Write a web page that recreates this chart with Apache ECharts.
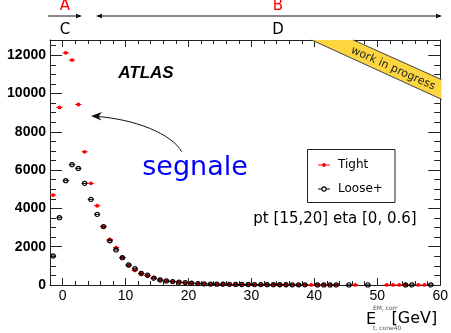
<!DOCTYPE html>
<html><head><meta charset="utf-8">
<script src="https://cdn.jsdelivr.net/npm/echarts@6/dist/echarts.min.js"></script>
<style>html,body{margin:0;padding:0;background:#fff}#c{width:451px;height:333px}</style>
</head><body><div id="c"></div>
<script>
// bin centres (GeV), 1 GeV bins from -2 to 60
const binCenters = [-1.5,-0.5,0.5,1.5,2.5,3.5,4.5,5.5,6.5,7.5,8.5,9.5,10.5,11.5,12.5,13.5,14.5,15.5,16.5,17.5,18.5,19.5,
  20.5,21.5,22.5,23.5,24.5,25.5,26.5,27.5,28.5,29.5,30.5,31.5,32.5,33.5,34.5,35.5,36.5,37.5,38.5,39.5,
  40.5,41.5,42.5,43.5,44.5,45.5,46.5,47.5,48.5,49.5,50.5,51.5,52.5,53.5,54.5,55.5,56.5,57.5,58.5,59.5];
const tightValues = [4700,9280,12130,11750,9430,6960,5310,4140,3050,2380,1950,1430,1010,760,600,480,370,270,215,180,150,115,
  90,70,60,50,45,40,35,30,25,25,20,20,15,15,12,12,10,10,8,6,
  6,5,5,5,null,null,4,null,null,null,null,3,3,3,3,null,2,2,null,null];
const looseValues = [1515,3515,5450,6285,6090,5310,4475,3690,3050,2310,1830,1425,1045,850,600,510,355,260,215,180,150,125,
  95,75,60,50,45,40,35,30,25,25,20,20,15,15,12,12,10,10,8,null,
  6,5,5,5,null,4,null,null,4,null,null,null,null,null,3,3,null,null,2,null];
const xLabelValues = [0,10,20,30,40,50,60];
const yLabelValues = [0,2000,4000,6000,8000,10000,12000];

const tightData = binCenters.map((x,i)=>[x,tightValues[i]]).filter(d=>d[1]!==null);
const looseData = binCenters.map((x,i)=>[x,looseValues[i]]).filter(d=>d[1]!==null);

function makeRender(color, hollow){
  return function(params, api){
    const x = api.value(0), y = api.value(1);
    const p = api.coord([x,y]);
    const l = api.coord([x-0.5,y]);
    const r = api.coord([x+0.5,y]);
    return {type:'group', children:[
      {type:'line', shape:{x1:l[0],y1:l[1],x2:r[0],y2:r[1]}, style:{stroke:color,lineWidth:1}},
      hollow
        ? {type:'circle', shape:{cx:p[0],cy:p[1],r:2.1}, style:{fill:'rgba(0,0,0,0)',stroke:color,lineWidth:1.1}}
        : {type:'circle', shape:{cx:p[0],cy:p[1],r:1.9}, style:{fill:color}}
    ]};
  };
}

const XMIN=-2, XMAX=60, YMAX=12800;
const lineStyle = {color:'#222', width:1};
const plain = v => String(v);
function xAx(pos, major, label){
  return {type:'value', min:XMIN, max:XMAX, position:pos,
    interval: major ? undefined : 2,
    splitLine:{show:false},
    axisLine:{show:!major, onZero:false, lineStyle},
    axisTick:major ? {show:true, inside:true, length:7, customValues:xLabelValues, lineStyle}
                   : {show:true, inside:true, length:4, lineStyle},
    axisLabel: label ? {show:true, customValues:xLabelValues, formatter:plain, margin:4, fontSize:14, color:'#000', fontFamily:'Liberation Sans'} : {show:false}
  };
}
function yAx(pos, major, label){
  return {type:'value', min:0, max:YMAX, position:pos,
    interval: major ? undefined : 500,
    splitLine:{show:false},
    axisLine:{show:!major, onZero:false, lineStyle},
    axisTick:major ? {show:true, inside:true, length:12, customValues:yLabelValues, lineStyle}
                   : {show:true, inside:true, length:6, lineStyle},
    axisLabel: label ? {show:true, customValues:yLabelValues, formatter:plain, margin:4, fontSize:14, fontWeight:'bold', color:'#000', fontFamily:'Liberation Sans'} : {show:false}
  };
}

const chart = echarts.init(document.getElementById('c'), null, {renderer:'canvas'});
chart.setOption({
  animation:false,
  backgroundColor:'#fff',
  grid:{left:50, right:9, top:40, bottom:48, containLabel:false},
  xAxis:[xAx('bottom',false,true), xAx('bottom',true,false), xAx('top',false,false), xAx('top',true,false)],
  yAxis:[yAx('left',false,true), yAx('left',true,false), yAx('right',false,false), yAx('right',true,false)],
  series:[
    {name:'Tight', type:'custom', xAxisIndex:0, yAxisIndex:0, data:tightData, renderItem:makeRender('#ff0000',false), z:3},
    {name:'Loose+', type:'custom', xAxisIndex:0, yAxisIndex:0, data:looseData, renderItem:makeRender('#000000',true), z:4}
  ],
  graphic:[
    // work in progress banner
    {type:'polygon', shape:{points:[[311.7,40],[353.3,40],[441.5,79.6],[441.5,99.3]]}, style:{fill:'#fcd53f'}, z:5},
    {type:'line', shape:{x1:311.7,y1:40,x2:441.5,y2:99.3}, style:{stroke:'#444',lineWidth:1}, z:6},
    {type:'line', shape:{x1:353.3,y1:40,x2:441.5,y2:79.6}, style:{stroke:'#444',lineWidth:1}, z:6},
    {type:'text', x:393, y:68.5, rotation:-0.423, style:{text:'work in progress', font:'11px "DejaVu Sans"', fill:'#222', align:'center', verticalAlign:'middle'}, z:7},
    // top annotations
    {type:'text', x:65, y:6, style:{text:'A', font:'15px "DejaVu Sans"', fill:'#ff0000', align:'center', verticalAlign:'middle'}},
    {type:'text', x:278, y:6, style:{text:'B', font:'15px "DejaVu Sans"', fill:'#ff0000', align:'center', verticalAlign:'middle'}},
    {type:'text', x:65, y:30.5, style:{text:'C', font:'15px "DejaVu Sans"', fill:'#000', align:'center', verticalAlign:'middle'}},
    {type:'text', x:278, y:30.5, style:{text:'D', font:'15px "DejaVu Sans"', fill:'#000', align:'center', verticalAlign:'middle'}},
    {type:'line', shape:{x1:48,y1:16,x2:80,y2:16}, style:{stroke:'#111',lineWidth:1}},
    {type:'polygon', shape:{points:[[82,16],[76,13.8],[76,18.2]]}, style:{fill:'#111'}},
    {type:'line', shape:{x1:98,y1:16,x2:440,y2:16}, style:{stroke:'#111',lineWidth:1}},
    {type:'polygon', shape:{points:[[96,16],[102,13.8],[102,18.2]]}, style:{fill:'#111'}},
    {type:'polygon', shape:{points:[[442,16],[436,13.8],[436,18.2]]}, style:{fill:'#111'}},
    // ATLAS
    {type:'text', x:146, y:73.5, style:{text:'ATLAS', font:'italic bold 17px "Liberation Sans"', fill:'#000', align:'center', verticalAlign:'middle'}},
    // segnale + arrow
    {type:'text', x:195, y:168, style:{text:'segnale', font:'27px "DejaVu Sans"', fill:'#0000ff', align:'center', verticalAlign:'middle'}},
    {type:'bezierCurve', shape:{x1:181.7,y1:151.7,cpx1:172,cpy1:134,cpx2:135,cpy2:119,x2:95,y2:116.3}, style:{stroke:'#111',lineWidth:1,fill:null}},
    {type:'polygon', shape:{points:[[91,116],[102,112],[98.5,116.5],[101.5,120.5]]}, style:{fill:'#111'}},
    // legend
    {type:'rect', shape:{x:307.5,y:149.5,width:87.5,height:53}, style:{fill:'#fff',stroke:'#222',lineWidth:1}, z:8},
    {type:'line', shape:{x1:318,y1:165,x2:330,y2:165}, style:{stroke:'#ff0000',lineWidth:1}, z:9},
    {type:'circle', shape:{cx:324,cy:165,r:1.9}, style:{fill:'#ff0000'}, z:9},
    {type:'text', x:338, y:165, style:{text:'Tight', font:'12px "DejaVu Sans"', fill:'#000', verticalAlign:'middle'}, z:9},
    {type:'line', shape:{x1:318,y1:189,x2:330,y2:189}, style:{stroke:'#000',lineWidth:1}, z:9},
    {type:'circle', shape:{cx:324,cy:189,r:2.1}, style:{fill:'#fff',stroke:'#000',lineWidth:1.1}, z:9},
    {type:'text', x:338, y:189, style:{text:'Loose+', font:'12px "DejaVu Sans"', fill:'#000', verticalAlign:'middle'}, z:9},
    // pt / eta text
    {type:'text', x:335, y:219, style:{text:'pt [15,20] eta [0, 0.6]', font:'15px "DejaVu Sans"', fill:'#000', align:'center', verticalAlign:'middle'}},
    // x-axis title
    {type:'text', x:366, y:319.5, style:{text:'E', font:'16px "DejaVu Sans"', fill:'#000', verticalAlign:'middle'}},
    {type:'text', x:373, y:308.5, style:{text:'EM, corr', font:'6px "DejaVu Sans"', fill:'#555', verticalAlign:'middle'}},
    {type:'text', x:373, y:328.5, style:{text:'t, cone40', font:'6px "DejaVu Sans"', fill:'#555', verticalAlign:'middle'}},
    {type:'text', x:391.5, y:319, style:{text:'[GeV]', font:'16px "DejaVu Sans"', fill:'#000', verticalAlign:'middle'}}
  ]
});
</script></body></html>
